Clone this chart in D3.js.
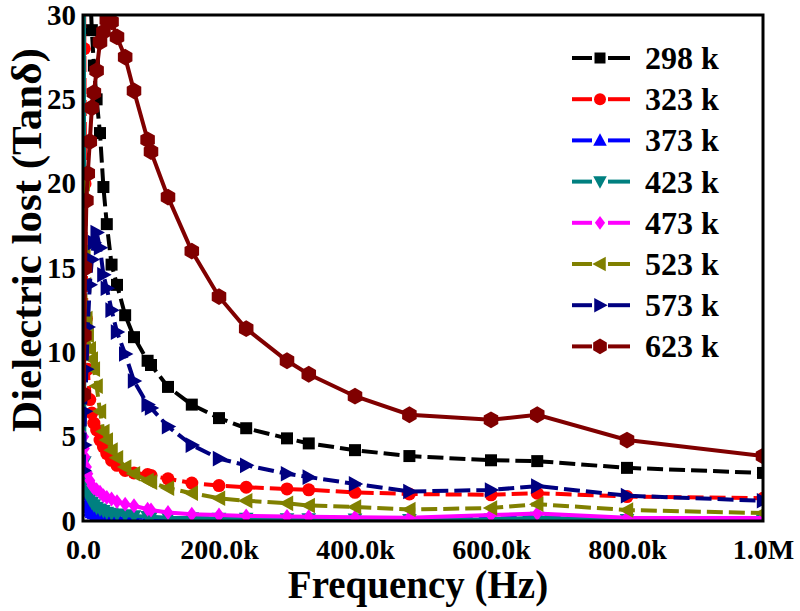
<!DOCTYPE html>
<html>
<head>
<meta charset="utf-8">
<script src="https://cdn.jsdelivr.net/npm/d3@7/dist/d3.min.js"></script>
<style>
  html, body { margin: 0; padding: 0; background: #fff; }
  svg { display: block; }
  text { font-family: "Liberation Serif", "Times New Roman", serif; font-weight: bold; }
</style>
</head>
<body>
<svg id="chart" width="800" height="611"></svg>
<script>
// ---------- DATA ----------
const freqHz = [1e3, 2e3, 3e3, 5e3, 7e3, 10e3, 13e3, 16e3, 20e3, 25e3, 30e3, 35e3, 42e3, 50e3, 62e3, 75e3,
                95e3, 100e3, 125e3, 160e3, 200e3, 240e3, 300e3, 332e3, 400e3, 480e3, 600e3, 668e3, 800e3, 1000e3];

const seriesNames = ["298 k", "323 k", "373 k", "423 k", "473 k", "523 k", "573 k", "623 k"];

const tan298 = [60, 52, 46, 40, 36, 32, 29.1, 27, 25, 23, 19.8, 17.6, 15.2, 14.0, 12.2, 10.9,
                9.5, 9.25, 7.95, 6.9, 6.1, 5.5, 4.9, 4.6, 4.2, 3.85, 3.6, 3.55, 3.15, 2.85];
const tan323 = [38, 28, 20, 12, 9, 7.2, 6.4, 5.8, 5.4, 4.8, 4.4, 4.0, 3.6, 3.3, 3.0, 2.85,
                2.75, 2.7, 2.5, 2.25, 2.1, 2.0, 1.9, 1.85, 1.7, 1.6, 1.55, 1.65, 1.45, 1.35];
const tan373 = [3.5, 2.2, 1.6, 1.0, 0.8, 0.6, 0.5, 0.45, 0.4, 0.35, 0.3, 0.28, 0.26, 0.24, 0.22, 0.2,
                0.18, 0.18, 0.16, 0.15, 0.14, 0.13, 0.12, 0.12, 0.11, 0.1, 0.12, 0.25, 0.1, 0.08];
const tan423 = [45, 3.5, 2.6, 2.0, 1.6, 1.3, 1.1, 0.95, 0.8, 0.7, 0.6, 0.5, 0.45, 0.4, 0.35, 0.3,
                0.25, 0.25, 0.2, 0.18, 0.15, 0.14, 0.12, 0.11, 0.1, 0.08, 0.1, 0.2, 0.08, 0.05];
const tan473 = [5.0, 4.3, 3.8, 3.2, 2.8, 2.4, 2.1, 1.95, 1.85, 1.7, 1.5, 1.4, 1.3, 1.15, 1.0, 0.9,
                0.7, 0.65, 0.5, 0.4, 0.35, 0.3, 0.27, 0.25, 0.22, 0.2, 0.35, 0.45, 0.2, 0.18];
const tan523 = [20, 16, 14, 12, 11, 10.2, 9.6, 9.0, 8.0, 6.5, 5.3, 4.8, 4.2, 3.75, 3.2, 2.8,
                2.4, 2.3, 1.95, 1.65, 1.35, 1.2, 1.05, 0.92, 0.83, 0.68, 0.77, 1.0, 0.65, 0.47];
const tan573 = [3.0, 4.5, 6.5, 9, 11.5, 14, 15.5, 16.5, 17.1, 16.2, 14.6, 13.8, 12.5, 11.2, 9.9, 8.3,
                6.9, 6.7, 5.6, 4.5, 3.7, 3.3, 2.8, 2.6, 2.2, 1.75, 1.84, 2.07, 1.5, 1.2];
const tan623 = [7.5, 11, 15, 19, 20.6, 22.5, 24.5, 25.4, 26.7, 28.4, 29.0, 29.7, 29.6, 28.7, 27.5, 25.5,
                22.6, 21.9, 19.2, 16.0, 13.3, 11.4, 9.5, 8.7, 7.4, 6.3, 6.0, 6.3, 4.8, 3.85];

const xTickValues = [0, 200e3, 400e3, 600e3, 800e3, 1e6];
const xTickLabels = ["0.0", "200.0k", "400.0k", "600.0k", "800.0k", "1.0M"];
const yTickValues = [0, 5, 10, 15, 20, 25, 30];

// ---------- STYLE ----------
const allValues = [tan298, tan323, tan373, tan423, tan473, tan523, tan573, tan623];
const colors = ["#000000", "#ff0000", "#0000ff", "#008080", "#ff00ff", "#808000", "#000080", "#800000"];
const markers = ["square", "circle", "up", "down", "diamond", "left", "right", "hex"];
const dashed = [true, true, true, false, false, true, true, false];

const W = 800, H = 611;
const margin = { left: 83, right: 37, top: 15, bottom: 90 };
const plotW = W - margin.left - margin.right;   // 680
const plotH = H - margin.top - margin.bottom;   // 506

const svg = d3.select("#chart");
const x = d3.scaleLinear().domain([0, 1e6]).range([margin.left, margin.left + plotW]);
const y = d3.scaleLinear().domain([0, 30]).range([margin.top + plotH, margin.top]);

svg.append("defs").append("clipPath").attr("id", "clip")
  .append("rect").attr("x", margin.left).attr("y", margin.top).attr("width", plotW).attr("height", plotH);

function markerPath(type, size) {
  const r = size / 2;
  switch (type) {
    case "square": return d3.symbol(d3.symbolSquare, size * size)();
    case "circle": return d3.symbol(d3.symbolCircle, Math.PI * r * r)();
    case "diamond": return `M0,${-r * 1.15}L${r * 0.85},0L0,${r * 1.15}L${-r * 0.85},0Z`;
    case "hex": {
      const pts = d3.range(6).map(i => {
        const a = Math.PI / 6 + i * Math.PI / 3;
        return [r * 1.05 * Math.cos(a), r * 1.05 * Math.sin(a)];
      });
      return "M" + pts.map(p => p.join(",")).join("L") + "Z";
    }
    default: {
      const h = r * 1.1;
      return `M0,${-h}L${h * 0.95},${h * 0.75}L${-h * 0.95},${h * 0.75}Z`;
    }
  }
}
function markerRot(type) {
  return { up: 0, down: 180, left: -90, right: 90 }[type] || 0;
}
const markerSize = { square: 12, circle: 13, up: 14, down: 14, diamond: 13, left: 15, right: 15, hex: 16 };

const plot = svg.append("g").attr("clip-path", "url(#clip)");
const line = d3.line().x(d => x(d[0])).y(d => y(d[1]));

allValues.forEach((vals, i) => {
  const pts = freqHz.map((f, j) => [f, vals[j]]);
  const g = plot.append("g");
  g.append("path").datum(pts)
    .attr("d", line)
    .attr("fill", "none")
    .attr("stroke", colors[i])
    .attr("stroke-width", 4)
    .attr("stroke-dasharray", dashed[i] ? "16,6" : null);
  const type = markers[i];
  g.selectAll("path.m").data(pts).enter().append("path")
    .attr("class", "m")
    .attr("d", markerPath(type, markerSize[type]))
    .attr("transform", d => `translate(${x(d[0])},${y(d[1])}) rotate(${markerRot(type)})`)
    .attr("fill", colors[i]);
});

// frame
svg.append("rect")
  .attr("x", margin.left).attr("y", margin.top).attr("width", plotW).attr("height", plotH)
  .attr("fill", "none").attr("stroke", "#000").attr("stroke-width", 3);

// axes (labels only)
const xAxis = d3.axisBottom(x).tickValues(xTickValues)
  .tickFormat((d, i) => xTickLabels[i]).tickSize(0).tickPadding(18);
const gx = svg.append("g").attr("transform", `translate(0,${margin.top + plotH})`).call(xAxis);
gx.select(".domain").remove();
gx.selectAll("text").attr("font-size", 28).attr("fill", "#000");

const yAxis = d3.axisLeft(y).tickValues(yTickValues).tickFormat(d3.format("d")).tickSize(0).tickPadding(7);
const gy = svg.append("g").attr("transform", `translate(${margin.left},0)`).call(yAxis);
gy.select(".domain").remove();
gy.selectAll("text").attr("font-size", 29).attr("fill", "#000");

// axis titles
svg.append("text").attr("x", margin.left + plotW / 2 - 5).attr("y", 598)
  .attr("text-anchor", "middle").attr("font-size", 39).text("Frequency (Hz)");
svg.append("text").attr("transform", `translate(41,${240}) rotate(-90)`)
  .attr("text-anchor", "middle").attr("font-size", 43).text("Dielectric lost (Tanδ)");

// legend
const legend = svg.append("g");
seriesNames.forEach((name, i) => {
  const cy = 58 + i * 41.2;
  const g = legend.append("g");
  g.append("line").attr("x1", 572).attr("x2", 592).attr("y1", cy).attr("y2", cy)
    .attr("stroke", colors[i]).attr("stroke-width", 4);
  g.append("line").attr("x1", 608).attr("x2", 630).attr("y1", cy).attr("y2", cy)
    .attr("stroke", colors[i]).attr("stroke-width", 4);
  const type = markers[i];
  g.append("path").attr("d", markerPath(type, markerSize[type] - 1))
    .attr("transform", `translate(600,${cy}) rotate(${markerRot(type)})`)
    .attr("fill", colors[i]);
  g.append("text").attr("x", 645).attr("y", cy + 11).attr("font-size", 32).text(name);
});
</script>
</body>
</html>
